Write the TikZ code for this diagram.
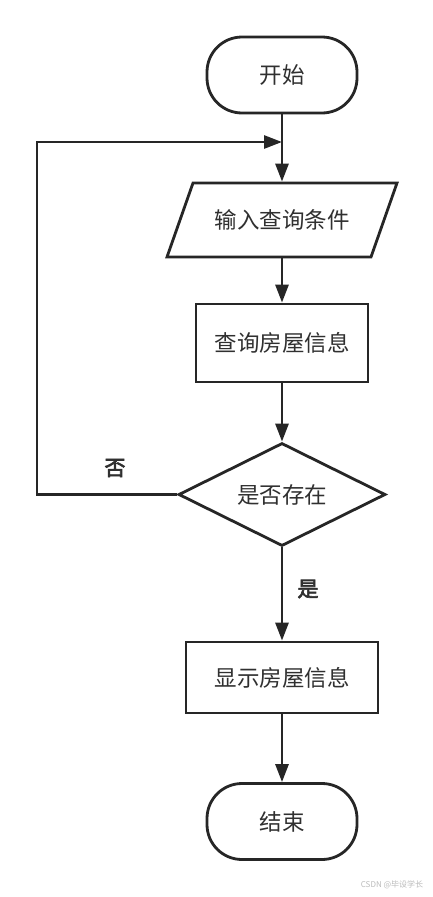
\documentclass[tikz,border=0pt]{standalone}
\usepackage{fontspec}
\newfontfamily\cjk{Noto Sans CJK SC}
\newfontfamily\cjkb[FakeBold=3]{Noto Sans CJK SC}
\usetikzlibrary{shapes.geometric,shapes.misc,arrows.meta}
\definecolor{linec}{HTML}{262626}
\definecolor{textc}{HTML}{303030}
\definecolor{wmc}{HTML}{BBBBBB}
\begin{document}
\begin{tikzpicture}[x=1pt,y=-1pt,
  base/.style={draw=linec,line width=2.8pt,fill=white,text=textc,font=\cjk\fontsize{22.5}{24}\selectfont,inner sep=0pt},
  term/.style={base,rectangle,rounded corners=35pt,minimum width=150pt,minimum height=76pt},
  proc/.style={base,rectangle},
  iotext/.style={base,draw=none,fill=none,rectangle,minimum width=204pt,minimum height=74pt},
  decision/.style={base,diamond,aspect=2,minimum width=207pt,minimum height=103pt},
  arr/.style={draw=linec,line width=2.8pt,-{Triangle[length=18pt,width=13pt]}},
  lbl/.style={text=textc,font=\cjkb\fontsize{21}{23}\selectfont,inner sep=0pt}]
\useasboundingbox[fill=white] (0,0) rectangle (433,897);
\node[term] (start) at (282,75) {开始};
% parallelogram (input)
\coordinate (pbl) at (167,257);
\coordinate (ptl) at (193,183);
\coordinate (ptr) at (397,183);
\coordinate (pbr) at (371,257);
\draw[draw=linec,line width=2.8pt,fill=white,line join=miter] (pbl) -- (ptl) -- (ptr) -- (pbr) -- cycle;
\node[iotext] (input) at (282,220) {输入查询条件};
\node[proc,minimum width=172pt,minimum height=78pt] (query) at (282,343) {查询房屋信息};
\node[decision] (dec) at (282,494.5) {是否存在};
\node[proc,minimum width=192pt,minimum height=71pt] (show) at (282,677.5) {显示房屋信息};
\node[term] (end) at (282,821.5) {结束};
\coordinate (c1) at (37,494.5);
\coordinate (c2) at (37,142);
\coordinate (m) at (282,142);
\draw[arr] (start) -- (input);
\draw[arr] (input) -- (query);
\draw[arr] (query) -- (dec);
\draw[arr] (dec) -- (show);
\draw[arr] (show) -- (end);
\draw[arr,line join=miter] (dec.west) -- (c1) -- (c2) -- (m);
\node[lbl] (no) at (115,468) {否};
\node[lbl] (yes) at (308,589) {是};
\node[text=wmc,font=\cjk\fontsize{8}{9}\selectfont,inner sep=0pt] (wm) at (392,885) {CSDN @毕设学长};
\end{tikzpicture}
\end{document}
